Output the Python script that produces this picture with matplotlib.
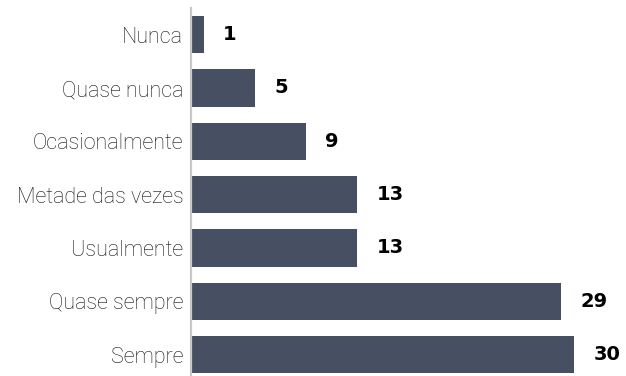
import matplotlib
matplotlib.use("Agg")
import matplotlib.pyplot as plt

# Frequência das respostas
categorias = ["Nunca", "Quase nunca", "Ocasionalmente", "Metade das vezes",
              "Usualmente", "Quase sempre", "Sempre"]
valores = [1, 5, 9, 13, 13, 29, 30]

cor_barra = "#475063"

fig = plt.figure(figsize=(6.26, 3.76), dpi=100)
ax = fig.add_axes([191 / 626, 0, (574 - 191) / 626, 368 / 376])

pos = list(range(len(categorias)))
ax.barh(pos, valores, height=0.7, color=cor_barra)

ax.set_xlim(0, 30)
ax.set_ylim(6.40, -0.5)

ax.set_yticks(pos)
ax.set_yticklabels(categorias, fontsize=15.5, family="Roboto", fontweight="light",
                   color="#111111")
ax.tick_params(axis="y", length=0, pad=5.5)
ax.set_xticks([])

for s in ["top", "right", "bottom"]:
    ax.spines[s].set_visible(False)
ax.spines["left"].set_color("#c8c8c8")
ax.spines["left"].set_linewidth(1.6)

# rótulos com o valor de cada barra
for p, v in zip(pos, valores):
    ax.annotate(str(v), xy=(v, p), xytext=(14, 0), textcoords="offset points",
                ha="left", va="center", fontsize=14, family="DejaVu Sans",
                fontweight="bold", color="#000000", annotation_clip=False)

fig.savefig("out.png", dpi=100)
